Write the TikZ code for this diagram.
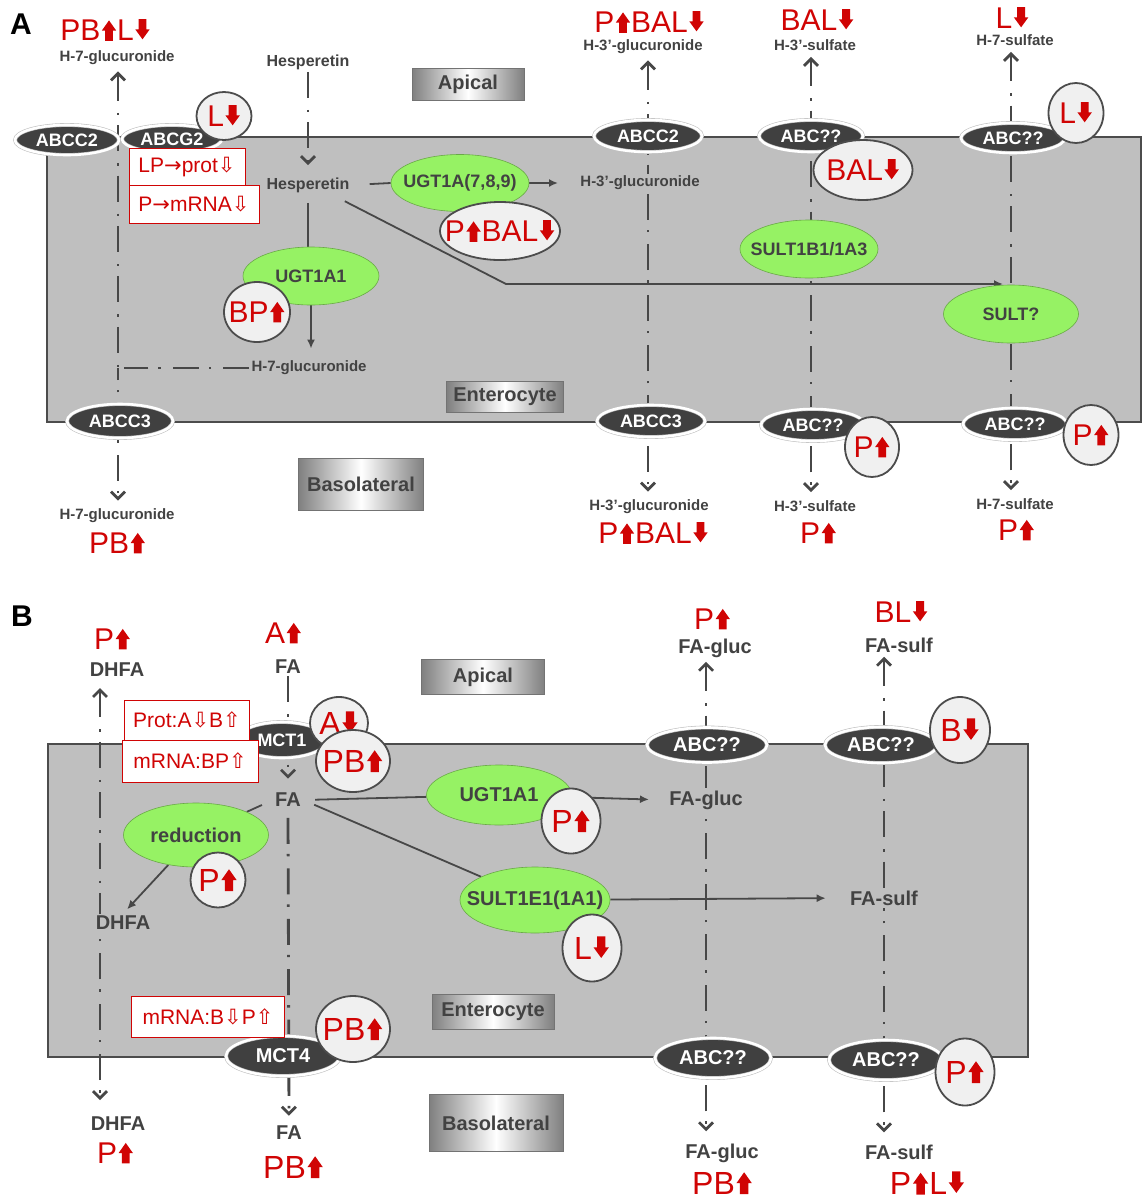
\documentclass[tikz,border=0pt]{standalone}
\usepackage{fontspec}
\setmainfont{Liberation Sans}
\newfontfamily\symfont{DejaVu Sans}
\usepackage{tikz}
\usetikzlibrary{arrows.meta,shapes.geometric,positioning}
\definecolor{EffRed}{RGB}{208,4,4}
\definecolor{EnzGreen}{RGB}{150,242,100}
\definecolor{TxtGray}{RGB}{66,66,66}
\definecolor{CellGray}{RGB}{191,191,191}
\newcommand{\upr}{\hspace{0.05em}\tikz[x=1em,y=1em,baseline=0pt]\fill[EffRed]
  (0.11,0) -- (0.11,0.34) -- (0,0.34) -- (0.24,0.68) -- (0.48,0.34) -- (0.37,0.34) -- (0.37,0) -- cycle;\hspace{0.03em}}
\newcommand{\dnr}{\hspace{0.05em}\tikz[x=1em,y=1em,baseline=0pt]\fill[EffRed]
  (0.11,0.72) -- (0.11,0.38) -- (0,0.38) -- (0.24,0.05) -- (0.48,0.38) -- (0.37,0.38) -- (0.37,0.72) -- cycle;\hspace{0.03em}}
\newcommand{\upo}{{\symfont\char"21E7}}
\newcommand{\dno}{{\symfont\char"21E9}}
\newcommand{\rto}{{\symfont\char"2192}}
\newcommand{\zw}[1]{\makebox[0pt]{#1}}
\pgfdeclarelayer{cellbg}
\pgfdeclarelayer{flows}
\pgfsetlayers{cellbg,flows,main}
\begin{document}
\begin{tikzpicture}[x=0.5pt,y=-0.5pt,
    lbl/.style={text=TxtGray,font=\bfseries\fontsize{7.5}{8}\selectfont,inner sep=1pt},
    lblb/.style={lbl,font=\bfseries\fontsize{10}{11}\selectfont},
    chg/.style={text=EffRed,font=\fontsize{15}{16}\selectfont,inner sep=0pt},
    chgb/.style={chg,font=\fontsize{16}{17}\selectfont},
    badge/.style={ellipse,draw=black!70,line width=0.9pt,fill=black!6,text=EffRed,
                  font=\fontsize{15}{16}\selectfont,inner sep=0pt},
    badgeb/.style={badge,font=\fontsize{16}{17}\selectfont},
    enz/.style={ellipse,fill=EnzGreen,draw=EnzGreen!70!black,line width=0.3pt,inner sep=0pt,
                text=TxtGray,font=\bfseries\fontsize{9}{10}\selectfont},
    enzb/.style={enz,font=\bfseries\fontsize{10}{11}\selectfont},
    tpt/.style={ellipse,fill=black!75,draw=black!25,double=white,double distance=1.3pt,
                line width=0.3pt,inner sep=0pt,text=white,font=\bfseries\fontsize{9}{10}\selectfont},
    tptb/.style={tpt,font=\bfseries\fontsize{10}{11}\selectfont},
    region/.style={draw=black!55,line width=0.4pt,left color=black!50,right color=black!50,
                   middle color=white,text=TxtGray,font=\bfseries\fontsize{10}{11}\selectfont},
    note/.style={draw=EffRed,line width=0.5pt,fill=white,text=EffRed,
                 font=\fontsize{10.5}{11}\selectfont,inner sep=1pt},
    cell/.style={fill=CellGray,draw=black!70,line width=1.2pt},
    flow/.style={draw=black!72,line width=1.4pt,dash pattern=on 13pt off 6pt on 1.2pt off 5pt},
    conv/.style={draw=black!72,line width=0.9pt},
    otip/.style={-{Straight Barb[length=3.5pt,width=7pt]}},
    itip/.style={{Straight Barb[length=3.5pt,width=7pt]}-},
    outb/.style={itip,dash phase=17pt},
    stip/.style={-{Latex[length=4.5pt,width=4pt]}}
  ]
  \useasboundingbox (0,0) rectangle (1146,1200);
  \begin{pgfonlayer}{cellbg}
    \draw[cell] (47,137) rectangle (1141,422);
    \draw[cell] (48,744) rectangle (1028,1057);
  \end{pgfonlayer}

  \node[font=\bfseries\fontsize{15}{16}\selectfont] (a-tag) at (21,24) {A};
  \node[region,minimum width=56pt,minimum height=16pt] (a-apical) at (468,84) {Apical};
  \node[region,minimum width=56.5pt,minimum height=15.5pt] (a-entero) at (505,397) {Enterocyte};
  \node[region,minimum width=62.5pt,minimum height=26pt] (a-baso) at (361,484) {Basolateral};

  \node[chg] (a-h7g-chg) at (105,30) {PB\upr L\dnr};
  \node[lbl] (a-h7g-top) at (117,58) {H-7-glucuronide};
  \node[lbl,font=\bfseries\fontsize{8}{9}\selectfont] (a-hesp-top) at (308,62) {Hesperetin};
  \node[chg] (a-h3g-chg) at (649,22) {P\upr BAL\dnr};
  \node[lbl] (a-h3g-top) at (643,47) {H-3’-glucuronide};
  \node[chg] (a-h3s-chg) at (817,20) {BAL\dnr};
  \node[lbl] (a-h3s-top) at (815,45) {H-3’-sulfate};
  \node[chg] (a-h7s-chg) at (1012,18) {L\dnr};
  \node[lbl] (a-h7s-top) at (1015,40) {H-7-sulfate};

  \node[tpt,minimum width=52pt,minimum height=15pt] (a-abcc2a) at (67,140) {\zw{ABCC2}};
  \node[tpt,minimum width=50pt,minimum height=14pt] (a-abcg2) at (172,139) {\zw{ABCG2}};
  \node[tpt,minimum width=54pt,minimum height=16pt] (a-abcc2b) at (648,136) {\zw{ABCC2}};
  \node[tpt,minimum width=52pt,minimum height=16pt] (a-abcs3t) at (811,136) {\zw{ABC??}};
  \node[tpt,minimum width=52pt,minimum height=15pt] (a-abcs7t) at (1013,138) {\zw{ABC??}};
  \node[tpt,minimum width=53pt,minimum height=17pt] (a-abcc3a) at (120,421) {\zw{ABCC3}};
  \node[tpt,minimum width=54pt,minimum height=16pt] (a-abcc3b) at (651,421) {\zw{ABCC3}};
  \node[tpt,minimum width=52pt,minimum height=16pt] (a-abcs3b) at (813,425) {\zw{ABC??}};
  \node[tpt,minimum width=52pt,minimum height=16pt] (a-abcs7b) at (1015,424) {\zw{ABC??}};

  \node[enz,minimum width=68pt,minimum height=29pt] (a-ugt1a1) at (311,276) {\zw{UGT1A1}};
  \node[enz,minimum width=69pt,minimum height=28.5pt] (a-ugt789) at (460,183) {\zw{UGT1A(7,8,9)}};
  \node[enz,minimum width=69pt,minimum height=29pt] (a-sult1b1) at (809,249) {\zw{SULT1B1/1A3}};
  \node[enz,minimum width=67.5pt,minimum height=29pt] (a-sultq) at (1011,314) {\zw{SULT?}};

  \node[lbl,font=\bfseries\fontsize{8}{9}\selectfont] (a-hesp) at (308,185) {Hesperetin};
  \node[lbl] (a-h3g) at (640,183) {H-3’-glucuronide};
  \node[lbl] (a-h7gi) at (309,368) {H-7-glucuronide};
  \coordinate (a-jn) at (118,368);
  \coordinate (a-bend) at (506,284);

  \node[badge,minimum width=27.5pt,minimum height=24pt] (a-bg2) at (224,116) {\zw{L\dnr}};
  \node[badge,minimum width=49.5pt,minimum height=30pt] (a-bs3t) at (863,170) {\zw{BAL\dnr}};
  \node[badge,minimum width=27.5pt,minimum height=30pt] (a-bs7t) at (1076,113) {\zw{L\dnr}};
  \node[badge,minimum width=33pt,minimum height=30pt] (a-b1a1) at (257,312) {\zw{BP\upr}};
  \node[badge,minimum width=60pt,minimum height=29pt] (a-b789) at (500,231) {\zw{P\upr BAL\dnr}};
  \node[badge,minimum width=27pt,minimum height=30pt] (a-bs3b) at (872,447) {\zw{P\upr}};
  \node[badge,minimum width=27.5pt,minimum height=30pt] (a-bs7b) at (1091,435) {\zw{P\upr}};

  \node[note,minimum width=58pt,minimum height=18.5pt] (a-note1) at (187,167) {LP\rto prot\dno};
  \node[note,minimum width=65pt,minimum height=19pt] (a-note2) at (194,204) {P\rto mRNA\dno};

  \node[lbl] (a-h7g-bot) at (117,516) {H-7-glucuronide};
  \node[chg] (a-h7g-bchg) at (117,543) {PB\upr};
  \node[lbl] (a-h3g-bot) at (649,507) {H-3’-glucuronide};
  \node[chg] (a-h3g-bchg) at (653,533) {P\upr BAL\dnr};
  \node[lbl] (a-h3s-bot) at (815,506) {H-3’-sulfate};
  \node[chg] (a-h3s-bchg) at (818,533) {P\upr};
  \node[lbl] (a-h7s-bot) at (1015,504) {H-7-sulfate};
  \node[chg] (a-h7s-bchg) at (1016,530) {P\upr};

  \begin{pgfonlayer}{flows}
    \draw[flow,itip,shorten <=2pt] (a-jn |- a-h7g-top.south) -- (a-jn);
    \draw[flow,outb,shorten <=3pt] (a-jn |- a-h7g-bot.north) -- (a-jn);
    \draw[flow,shorten >=3pt] (a-h7gi.west) -- (a-jn);
    \draw[flow,otip,shorten >=5pt] (a-hesp-top.south) -- (a-hesp.north);
    \draw[conv,shorten <=4pt] (a-hesp.south) -- (a-hesp.south |- a-ugt1a1.north);
    \draw[conv,stip,shorten >=5pt] (a-ugt1a1.south) -- (a-ugt1a1.south |- a-h7gi.north);
    \draw[conv,shorten <=9pt] (a-hesp.east) -- (a-ugt789.west);
    \draw[conv,stip,shorten >=10pt] (a-ugt789.east) -- (a-h3g.west);
    \draw[conv,stip,shorten <=7pt,shorten >=4pt] (a-hesp.-22) -- (a-bend) -- (a-bend -| a-sultq.north);
    \draw[flow,itip,shorten <=2pt] (a-abcc2b |- a-h3g-top.south) -- (a-h3g.north -| a-abcc2b);
    \draw[flow,outb,shorten <=3pt] (a-abcc2b |- a-h3g-bot.north) -- (a-h3g.south -| a-abcc2b);
    \draw[flow,itip,shorten <=2pt] (a-abcs3t |- a-h3s-top.south) -- (a-sult1b1.north -| a-abcs3t);
    \draw[flow,outb,shorten <=3pt] (a-abcs3t |- a-h3s-bot.north) -- (a-sult1b1.south -| a-abcs3t);
    \draw[flow,itip,shorten <=2pt] (a-sultq.north |- a-h7s-top.south) -- (a-sultq.north);
    \draw[flow,outb,shorten <=3pt] (a-sultq.south |- a-h7s-bot.north) -- (a-sultq.south);
  \end{pgfonlayer}

  \node[font=\bfseries\fontsize{15}{16}\selectfont] (b-tag) at (22,616) {B};
  \node[region,minimum width=61.5pt,minimum height=17.5pt] (b-apical) at (483,677) {Apical};
  \node[region,minimum width=61pt,minimum height=17.5pt] (b-entero) at (493,1012) {Enterocyte};
  \node[region,minimum width=67pt,minimum height=28.5pt] (b-baso) at (496,1123) {Basolateral};

  \node[chg] (b-dhfa-chg) at (112,639) {P\upr};
  \node[lblb] (b-dhfa-top) at (117,670) {DHFA};
  \node[chg] (b-fa-chg) at (283,633) {A\upr};
  \node[lblb] (b-fa-top) at (288,667) {FA};
  \node[chg] (b-fag-chg) at (712,619) {P\upr};
  \node[lblb] (b-fag-top) at (715,648) {FA-gluc};
  \node[chg] (b-fas-chg) at (901,612) {BL\dnr};
  \node[lblb] (b-fas-top) at (899,645) {FA-sulf};
  \coordinate (b-dx-up) at (100,688);
  \coordinate (b-dx-dn) at (100,1100);

  \node[tptb,font=\bfseries\fontsize{9}{10}\selectfont,minimum width=45pt,minimum height=18pt] (b-mct1) at (282,740) {\zw{MCT1}};
  \node[tptb,minimum width=60pt,minimum height=17.5pt] (b-abcgt) at (707,745) {\zw{ABC??}};
  \node[tptb,minimum width=56pt,minimum height=18pt] (b-abcst) at (881,745) {\zw{ABC??}};
  \node[tptb,minimum width=57pt,minimum height=20pt] (b-mct4) at (283,1056) {\zw{MCT4}};
  \node[tptb,minimum width=58pt,minimum height=20pt] (b-abcgb) at (713,1058) {\zw{ABC??}};
  \node[tptb,minimum width=57pt,minimum height=20pt] (b-abcsb) at (886,1060) {\zw{ABC??}};

  \node[enzb,minimum width=72.5pt,minimum height=32pt] (b-red) at (196,835) {\zw{reduction}};
  \node[enzb,minimum width=72.5pt,minimum height=30pt] (b-ugt) at (499,795) {\zw{UGT1A1}};
  \node[enzb,minimum width=75pt,minimum height=33pt] (b-sult) at (535,900) {\zw{SULT1E1(1A1)}};

  \node[lblb] (b-fa) at (288,800) {FA};
  \node[lblb] (b-dhfa) at (123,923) {DHFA};
  \node[lblb] (b-fag) at (706,800) {FA-gluc};
  \node[lblb] (b-fas) at (884,898) {FA-sulf};

  \node[badgeb,minimum width=29pt,minimum height=26pt] (b-bmct1a) at (339,723) {\zw{A\dnr}};
  \node[badgeb,minimum width=37pt,minimum height=31pt] (b-bmct1b) at (353,761) {\zw{PB\upr}};
  \node[badgeb,minimum width=30pt,minimum height=33pt] (b-babcst) at (960,730) {\zw{B\dnr}};
  \node[badgeb,minimum width=27.5pt,minimum height=27.5pt] (b-bred) at (218,880) {\zw{P\upr}};
  \node[badgeb,minimum width=29.5pt,minimum height=32.5pt] (b-bugt) at (571,821) {\zw{P\upr}};
  \node[badgeb,minimum width=29.5pt,minimum height=33.5pt] (b-bsult) at (592,948) {\zw{L\dnr}};
  \node[badgeb,minimum width=37pt,minimum height=33pt] (b-bmct4) at (353,1029) {\zw{PB\upr}};
  \node[badgeb,minimum width=29.5pt,minimum height=33.5pt] (b-babcsb) at (965,1072) {\zw{P\upr}};

  \node[note,minimum width=62.5pt,minimum height=20pt] (b-note1) at (187,720) {Prot:A\dno B\upo};
  \node[note,minimum width=68pt,minimum height=21pt] (b-note2) at (190,761) {mRNA:BP\upo};
  \node[note,minimum width=76.5pt,minimum height=20.5pt] (b-note3) at (208,1017) {mRNA:B\dno P\upo};

  \node[lblb] (b-dhfa-bot) at (118,1124) {DHFA};
  \node[chg] (b-dhfa-bchg) at (115,1153) {P\upr};
  \node[lblb] (b-fa-bot) at (289,1133) {FA};
  \node[chgb] (b-fa-bchg) at (293,1167) {PB\upr};
  \node[lblb] (b-fag-bot) at (722,1153) {FA-gluc};
  \node[chgb] (b-fag-bchg) at (722,1183) {PB\upr};
  \node[lblb] (b-fas-bot) at (899,1152) {FA-sulf};
  \node[chgb] (b-fas-bchg) at (927,1183) {P\upr L\dnr};

  \begin{pgfonlayer}{flows}
    \draw[flow,itip] (b-dx-up) -- (b-dhfa.north -| b-dx-up);
    \draw[flow,outb] (b-dx-dn) -- (b-dhfa.south -| b-dx-dn);
    \draw[flow,otip,shorten >=6pt] (b-fa-top.south) -- (b-fa.north);
    \draw[flow,outb,shorten <=4pt] (b-fa-bot.north) -- (b-fa.south);
    \draw[conv,shorten <=6pt] (b-fa.west) -- (b-red);
    \draw[conv,stip,shorten >=3pt] (b-red) -- (b-dhfa.north);
    \draw[conv,shorten <=6pt] (b-fa.east) -- (b-ugt);
    \draw[conv,stip,shorten >=9pt] (b-ugt) -- (b-fag.west);
    \draw[conv,shorten <=6pt] (b-fa.east) -- (b-sult);
    \draw[conv,stip,shorten >=11pt] (b-sult) -- (b-fas.west);
    \draw[flow,itip,shorten <=1pt] (b-fag.north |- b-fag-top.south) -- (b-fag.north);
    \draw[flow,outb,shorten <=5pt] (b-fag.south |- b-fag-bot.north) -- (b-fag.south);
    \draw[flow,itip,shorten <=1pt] (b-fas.north |- b-fas-top.south) -- (b-fas.north);
    \draw[flow,outb,shorten <=5pt] (b-fas.south |- b-fas-bot.north) -- (b-fas.south);
  \end{pgfonlayer}
\end{tikzpicture}
\end{document}
